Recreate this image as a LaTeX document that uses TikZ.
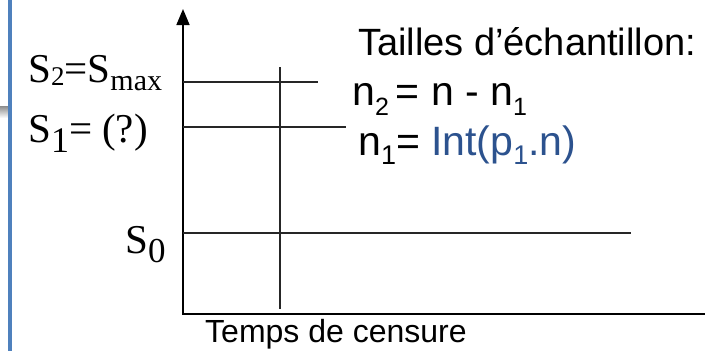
\documentclass[tikz,border=0pt]{standalone}
\usepackage{fontspec}
\setmainfont{Liberation Serif}
\newfontfamily\arialf{Liberation Sans}
\usetikzlibrary{arrows.meta}
\definecolor{intblue}{RGB}{44,82,142}
\definecolor{barblue}{RGB}{79,129,189}
\newcommand\lsub[3]{\raisebox{-#1pt}{\fontsize{#2}{#2}\selectfont #3}}
\begin{document}
\begin{tikzpicture}[x=1pt,y=-1pt,
  axis/.style={line width=1.6pt, black},
  level/.style={line width=1.1pt, black!85},
  serif/.style={font=\fontsize{41}{41}\selectfont, anchor=base west, inner sep=0pt},
  sans/.style={font=\arialf\fontsize{38}{38}\selectfont, anchor=base west, inner sep=0pt}]
\useasboundingbox (0,0) rectangle (705,351);
% left decoration
\shade[top color=black!45, bottom color=white] (0,106) rectangle (8,118);
\fill[barblue] (7.5,0) rectangle (11.5,351);
% axes
\coordinate (top) at (183,9);
\coordinate (O) at (183,314);
\coordinate (xend) at (705,314);
\draw[axis, {Triangle[width=13pt,length=16pt]}-] (top) -- (O) -- (xend);
% levels
\coordinate (s2a) at (183,82);  \coordinate (s2b) at (318,82);
\coordinate (s1a) at (183,127); \coordinate (s1b) at (346,127);
\coordinate (s0a) at (183,233); \coordinate (s0b) at (631,233);
\coordinate (va) at (280,67);   \coordinate (vb) at (280,309);
\draw[level] (s2a) -- (s2b);
\draw[level] (s1a) -- (s1b);
\draw[level] (s0a) -- (s0b);
\draw[level] (va) -- (vb);
% labels
\node[serif] (lS2) at (28,82) {S\lsub{3}{27}{2}=S\lsub{8}{30}{max}};
\node[serif] (lS1) at (28,142) {S\lsub{10}{36}{1}= (?)};
\node[serif] (lS0) at (125,253) {S\lsub{9}{35}{0}};
\node[sans] (title) at (358,55) {Tailles d’échantillon:};
\node[sans, font=\arialf\fontsize{41}{41}\selectfont] (n2) at (352,105) {n\lsub{10}{25}{2}\,= n - n\lsub{10}{25}{1}};
\node[sans, font=\arialf\fontsize{41}{41}\selectfont] (n1) at (358,155) {n\lsub{9}{27}{1}= \textcolor{intblue}{Int(p\lsub{9}{27}{1}.n)}};
\node[sans, font=\arialf\fontsize{32}{32}\selectfont] (xlab) at (205,342) {Temps de censure};
\end{tikzpicture}
\end{document}
